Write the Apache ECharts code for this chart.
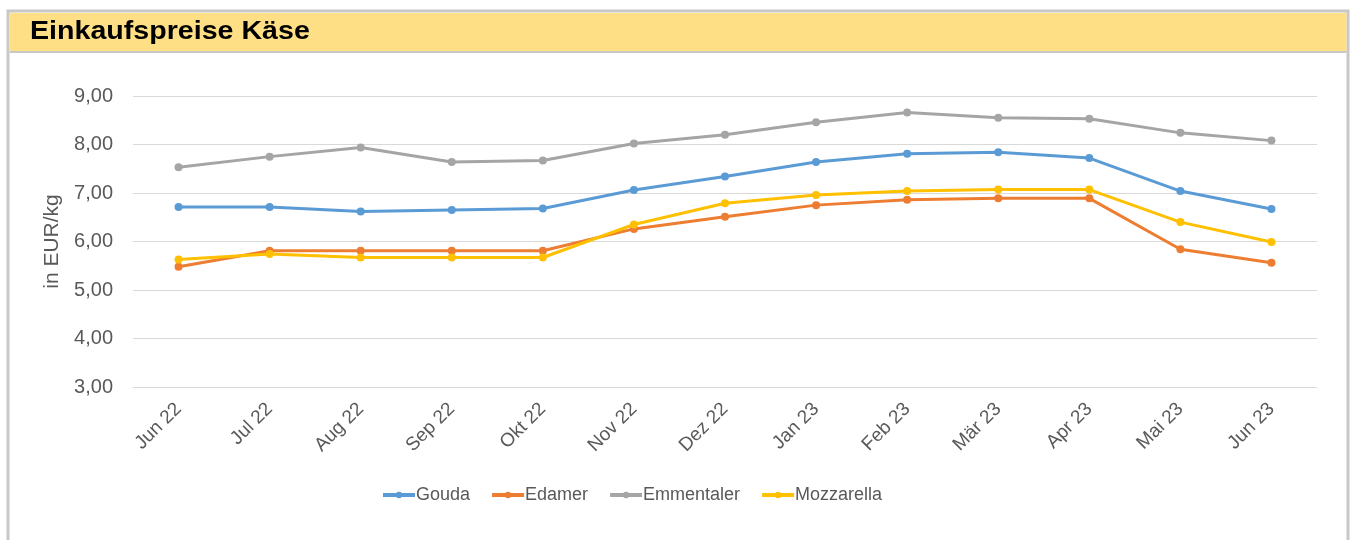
<!DOCTYPE html>
<html>
<head>
<meta charset="utf-8">
<script src="https://cdn.jsdelivr.net/npm/echarts@6/dist/echarts.min.js"></script>
<style>
  html, body { margin: 0; padding: 0; background: #fff; }
  #chart { width: 1353px; height: 540px; }
</style>
</head>
<body>
<div id="chart"></div>
<script>
// Monate
const months = ['Jun 22', 'Jul 22', 'Aug 22', 'Sep 22', 'Okt 22', 'Nov 22', 'Dez 22',
  'Jan 23', 'Feb 23', 'Mär 23', 'Apr 23', 'Mai 23', 'Jun 23'];

// Preise in EUR/kg
const gouda = [6.71, 6.71, 6.62, 6.65, 6.68, 7.06, 7.34, 7.64, 7.81, 7.84, 7.72, 7.04, 6.67];
const edamer = [5.48, 5.81, 5.81, 5.81, 5.81, 6.26, 6.51, 6.75, 6.86, 6.89, 6.89, 5.84, 5.56];
const emmentaler = [7.53, 7.75, 7.94, 7.64, 7.67, 8.02, 8.20, 8.46, 8.66, 8.55, 8.53, 8.24, 8.08];
const mozzarella = [5.63, 5.74, 5.67, 5.67, 5.67, 6.35, 6.79, 6.96, 7.04, 7.07, 7.07, 6.40, 5.99];

const font = 'Liberation Sans, Arial, sans-serif';
const textGrey = '#595959';

const chart = echarts.init(document.getElementById('chart'));

const makeSeries = (name, data, color) => ({
  name,
  type: 'line',
  data,
  symbol: 'circle',
  symbolSize: 8,
  lineStyle: { width: 3, color },
  itemStyle: { color },
  emphasis: { disabled: true }
});

chart.setOption({
  animation: false,
  textStyle: { fontFamily: font },
  graphic: [
    // Rahmen
    { type: 'rect', shape: { x: 8, y: 11, width: 1340, height: 540 },
      style: { fill: '#fff', stroke: '#c8c8c8', lineWidth: 3 }, z: -10 },
    // gelbe Titelleiste
    { type: 'rect', shape: { x: 9.5, y: 13, width: 1337, height: 38 },
      style: { fill: '#ffdf85' }, z: -9 },
    { type: 'rect', shape: { x: 9.5, y: 51, width: 1337, height: 2 },
      style: { fill: '#c8c8c8' }, z: -9 },
    // Titel
    { type: 'text', x: 30, y: 32, scaleX: 1.1,
      style: { text: 'Einkaufspreise Käse', font: 'bold 26px Liberation Sans, Arial, sans-serif',
        fill: '#000', verticalAlign: 'middle' } }
  ],
  grid: { left: 133, right: 36, top: 96, bottom: 153 },
  legend: {
    top: 481,
    left: 376,
    itemWidth: 32,
    itemHeight: 8,
    itemGap: 20,
    lineStyle: { width: 4 },
    textStyle: { fontFamily: font, fontSize: 18, color: textGrey, padding: [0, 0, 0, -4] },
    data: ['Gouda', 'Edamer', 'Emmentaler', 'Mozzarella']
  },
  xAxis: {
    type: 'category',
    data: months,
    boundaryGap: true,
    axisLine: { show: false },
    axisTick: { show: false },
    axisLabel: { rotate: 45, fontSize: 19, color: textGrey, fontFamily: font, margin: 19 }
  },
  yAxis: {
    type: 'value',
    min: 3,
    max: 9,
    interval: 1,
    name: 'in EUR/kg',
    nameLocation: 'middle',
    nameGap: 57,
    nameTextStyle: { fontSize: 21, color: textGrey, fontFamily: font },
    axisLabel: {
      fontSize: 20, color: textGrey, fontFamily: font, margin: 20,
      formatter: v => v.toFixed(2).replace('.', ',')
    },
    splitLine: { lineStyle: { color: '#d9d9d9', width: 1 } }
  },
  series: [
    makeSeries('Gouda', gouda, '#5b9bd5'),
    makeSeries('Edamer', edamer, '#ed7d31'),
    makeSeries('Emmentaler', emmentaler, '#a5a5a5'),
    makeSeries('Mozzarella', mozzarella, '#ffc000')
  ]
});
</script>
</body>
</html>
